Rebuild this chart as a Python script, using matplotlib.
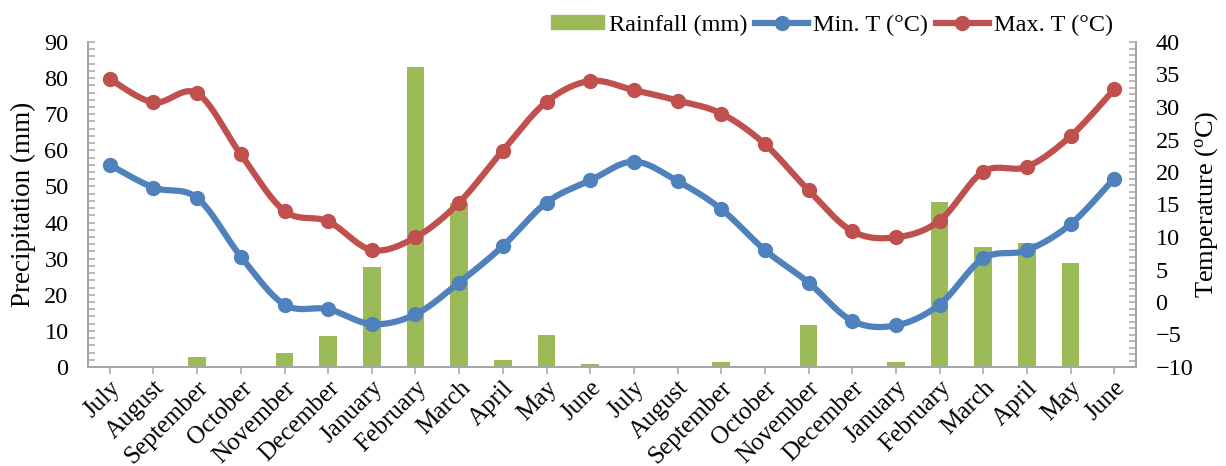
import numpy as np
import matplotlib
matplotlib.use('Agg')
import matplotlib.pyplot as plt
from matplotlib.ticker import MultipleLocator
from matplotlib.lines import Line2D
from matplotlib.patches import Patch

plt.rcParams['font.family'] = ['Liberation Serif', 'DejaVu Serif']
plt.rcParams['mathtext.fontset'] = 'custom'
plt.rcParams['mathtext.rm'] = 'Liberation Serif'

months = ['July', 'August', 'September', 'October', 'November', 'December',
          'January', 'February', 'March', 'April', 'May', 'June',
          'July', 'August', 'September', 'October', 'November', 'December',
          'January', 'February', 'March', 'April', 'May', 'June']
rain = [0, 0, 2.8, 0, 4.0, 8.6, 27.8, 83.1, 45.5, 1.9, 9.0, 0.7,
        0, 0, 1.3, 0, 11.6, 0, 1.3, 45.8, 33.3, 34.3, 28.7, 0]
tmin = [21.1, 17.6, 16.0, 7.0, -0.4, -1.1, -3.4, -1.9, 3.0, 8.6, 15.3, 18.7,
        21.6, 18.6, 14.3, 8.0, 3.0, -2.9, -3.6, -0.4, 6.7, 7.95, 11.95, 19.0]
tmax = [34.3, 30.7, 32.1, 22.7, 14.0, 12.4, 8.0, 9.95, 15.3, 23.3, 30.8, 34.0,
        32.6, 31.0, 29.0, 24.3, 17.2, 10.9, 9.95, 12.5, 20.05, 20.8, 25.5, 32.7]

c_bar = '#9BBB59'
c_min = '#4F81BD'
c_max = '#C0504D'
grey = '#A6A6A6'


def smooth(y, n=24):
    # excel-style smoothed line (catmull-rom as bezier)
    P = np.column_stack([np.arange(len(y)), np.asarray(y, float)])
    out = []
    t = np.linspace(0, 1, n)[:, None]
    for i in range(len(P) - 1):
        p0 = P[i - 1] if i > 0 else P[i]
        p3 = P[i + 2] if i + 2 < len(P) else P[i + 1]
        c1 = P[i] + (P[i + 1] - p0) / 6
        c2 = P[i + 1] - (p3 - P[i]) / 6
        seg = ((1 - t) ** 3 * P[i] + 3 * (1 - t) ** 2 * t * c1
               + 3 * (1 - t) * t ** 2 * c2 + t ** 3 * P[i + 1])
        out.append(seg if i == 0 else seg[1:])
    s = np.vstack(out)
    return s[:, 0], s[:, 1]


fig = plt.figure(figsize=(12.26, 4.66), dpi=100)
ax = fig.add_axes([88 / 1226, 99 / 466, (1136 - 88) / 1226, 325 / 466])
ax2 = ax.twinx()

x = np.arange(len(months))
ax.bar(x, rain, width=0.4, color=c_bar, zorder=2)
ax.set_xlim(-0.5, len(months) - 0.5)
ax.set_ylim(0, 90)
ax.yaxis.set_major_locator(MultipleLocator(10))
ax.yaxis.set_minor_locator(MultipleLocator(2))
ax.set_xticks(x)
ax.set_xticklabels(months, rotation=45, ha='right', va='top', rotation_mode='anchor')

lw, ms = 4.5, 10
for yy, c in [(tmin, c_min), (tmax, c_max)]:
    sx, sy = smooth(yy)
    ax2.plot(sx, sy, color=c, lw=lw, solid_capstyle='round', zorder=3)
    ax2.plot(x, yy, 'o', color=c, ms=ms, zorder=4)
ax2.set_ylim(-10, 40)
ax2.yaxis.set_major_locator(MultipleLocator(5))
ax2.yaxis.set_minor_locator(MultipleLocator(1))

for a in (ax, ax2):
    a.spines['top'].set_visible(False)
    for s in ('left', 'right', 'bottom'):
        a.spines[s].set_color(grey)
        a.spines[s].set_linewidth(1.4)
    a.tick_params(axis='y', which='both', direction='in', length=5, color=grey,
                  width=1.1, labelsize=17.5, pad=14)
ax.tick_params(axis='x', direction='out', length=5, color=grey, width=1.1,
               labelsize=18, pad=2)

ax.set_ylabel('Precipitation (mm)', fontsize=19.5)
ax2.set_ylabel('Temperature ($\\mathregular{^{o}}$C)', fontsize=19)
ax.yaxis.set_label_coords(-0.05, 0.5)
ax2.yaxis.set_label_coords(1.055, 0.5)

handles = [Patch(color=c_bar),
           Line2D([], [], color=c_min, lw=lw, marker='o', ms=ms),
           Line2D([], [], color=c_max, lw=lw, marker='o', ms=ms)]
labels = ['Rainfall (mm)', 'Min. T (°C)', 'Max. T (°C)']
fig.legend(handles, labels, loc='center', bbox_to_anchor=(832 / 1226, 1 - 25 / 466),
           ncol=3, frameon=False, fontsize=17.5, handlelength=2.2, handleheight=0.5,
           handletextpad=0.2, columnspacing=0.3)

fig.savefig('out.png', dpi=100)
